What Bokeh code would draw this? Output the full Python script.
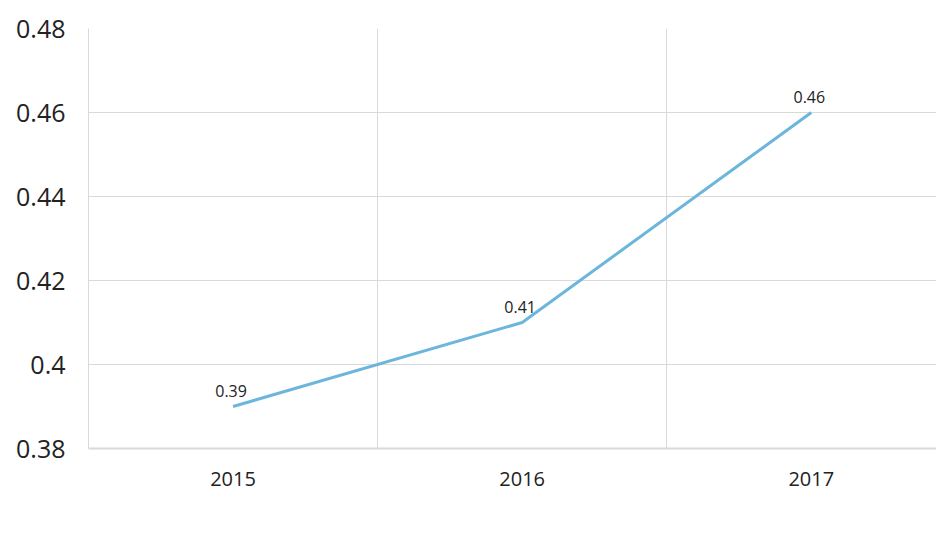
from bokeh.plotting import figure
from bokeh.models import ColumnDataSource, FixedTicker, Legend, LegendItem, Range1d
from bokeh.core.properties import value
from bokeh.embed import file_html
from bokeh.resources import INLINE

years = ["2015", "2016", "2017"]
barbosa = [0.39, 0.41, 0.46]
y_ticks = [0.38, 0.40, 0.42, 0.44, 0.46, 0.48]
y_tick_labels = ["0.38", "0.4", "0.42", "0.44", "0.46", "0.48"]

xs = list(range(len(years)))
src = ColumnDataSource(dict(x=xs, y=barbosa, lbl=[f"{v:.2f}" for v in barbosa]))

FONT = "Open Sans"
GRID = "#d9d9d9"
LINE = "#6cb6dd"

p = figure(frame_width=848, frame_height=420, output_backend="svg", toolbar_location=None,
           x_range=Range1d(-0.5, 2.433), y_range=Range1d(0.38, 0.48),
           min_border_left=88, min_border_top=28, min_border_right=0, min_border_bottom=98)
p.outline_line_color = None
p.background_fill_color = "white"
p.border_fill_color = "white"

# y axis
p.yaxis.ticker = FixedTicker(ticks=y_ticks)
p.yaxis.major_label_overrides = {t: l for t, l in zip(y_ticks, y_tick_labels)}
p.yaxis.major_label_text_font = FONT
p.yaxis.major_label_text_font_size = "25px"
p.yaxis.major_label_text_color = "#222222"
p.yaxis.major_label_standoff = 17
p.yaxis.major_tick_line_color = None
p.yaxis.minor_tick_line_color = None
p.yaxis.axis_line_color = GRID

# x axis
p.xaxis.ticker = FixedTicker(ticks=xs)
p.xaxis.major_label_overrides = {i: y for i, y in zip(xs, years)}
p.xaxis.major_label_text_font = FONT
p.xaxis.major_label_text_font_size = "20px"
p.xaxis.major_label_text_color = "#222222"
p.xaxis.major_label_standoff = 17
p.xaxis.major_tick_line_color = None
p.xaxis.minor_tick_line_color = None
p.xaxis.axis_line_color = GRID
p.xaxis.axis_line_width = 2

p.xgrid.ticker = FixedTicker(ticks=[-0.5, 0.5, 1.5, 2.5])
p.xgrid.grid_line_color = GRID
p.ygrid.grid_line_color = GRID

r = p.line("x", "y", source=src, line_color=LINE, line_width=3)
p.text("x", "y", text="lbl", source=src, text_font=value(FONT), text_font_size="16px",
       text_color="#222222", text_align="center", text_baseline="bottom",
       x_offset=-2, y_offset=-10)

legend = Legend(items=[LegendItem(label="Barbosa", renderers=[r])],
                location="center", orientation="horizontal",
                label_text_font=FONT, label_text_font_size="19px", label_text_color="#333333",
                glyph_width=44, label_standoff=10, label_width=184, padding=12, margin=0,
                border_line_color=None, background_fill_alpha=0)
p.add_layout(legend, "below")

open("out.html", "w").write(file_html(p, INLINE))
